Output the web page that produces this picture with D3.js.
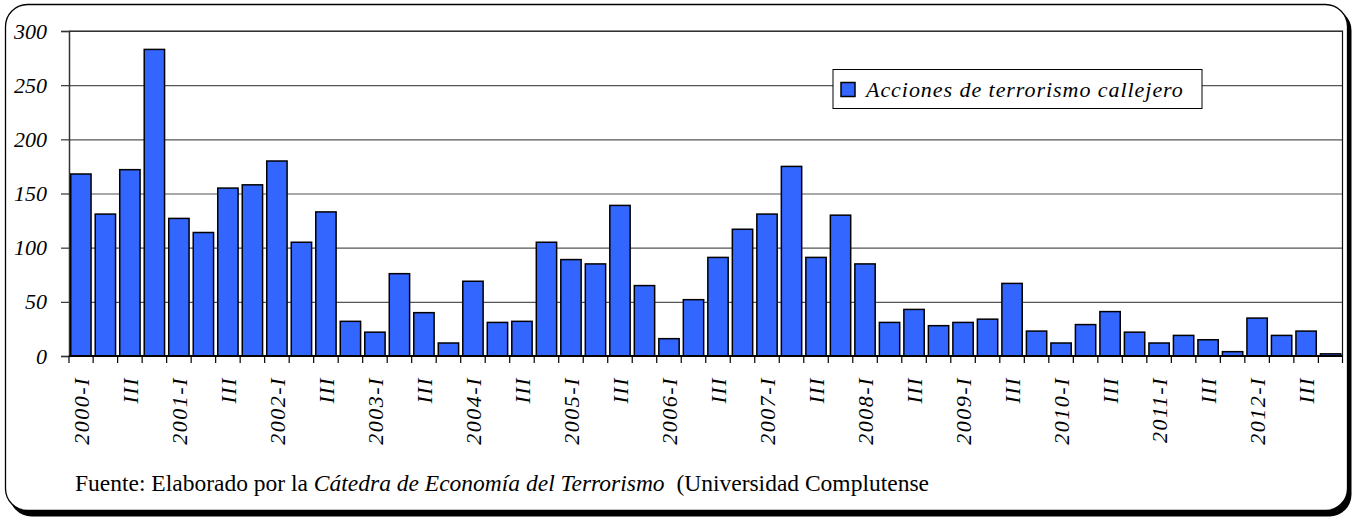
<!DOCTYPE html>
<html>
<head>
<meta charset="utf-8">
<script src="https://cdn.jsdelivr.net/npm/d3@7"></script>
<style>
  body { margin: 0; background: #fff; }
  text { font-family: "Liberation Serif", "Times New Roman", serif; }
</style>
</head>
<body>
<div id="chart"></div>
<script>

// categories: quarters 2000-I .. 2012-IV
var years = ["2000", "2001", "2002", "2003", "2004", "2005", "2006",
             "2007", "2008", "2009", "2010", "2011", "2012"];
var quarters = ["I", "II", "III", "IV"];

// acciones de terrorismo callejero, one value per quarter
var values = [168, 131, 172, 283,
              127, 114, 155, 158,
              180, 105, 133, 32,
              22, 76, 40, 12,
              69, 31, 32, 105,
              89, 85, 139, 65,
              16, 52, 91, 117,
              131, 175, 91, 130,
              85, 31, 43, 28,
              31, 34, 67, 23,
              12, 29, 41, 22,
              12, 19, 15, 4,
              35, 19, 23, 2];

var yTicks = [0, 50, 100, 150, 200, 250, 300];
var seriesName = "Acciones de terrorismo callejero";

var categories = [];
years.forEach(function (y) {
    quarters.forEach(function (q) { categories.push(y + "-" + q); });
});

function tickLabel(c, i) {
    if (i % 2 != 0) return "";
    var q = c.split("-")[1];
    return q == "I" ? c : q;
}

var W = 1359, H = 520;
var margin = {top: 31, right: 17, bottom: 164, left: 69},
    width = 1342.5 - margin.left,
    height = 356 - margin.top;

var svg = d3.select("#chart")
    .append("svg")
    .attr("width", W)
    .attr("height", H);

// outer frame with shadow
svg.append("rect")
    .attr("x", 9.5).attr("y", 8.5)
    .attr("width", 1342).attr("height", 508)
    .attr("rx", 22)
    .style("fill", "#000");
svg.append("rect")
    .attr("x", 5.5).attr("y", 4.5)
    .attr("width", 1342).attr("height", 506)
    .attr("rx", 22)
    .style("fill", "#fff")
    .style("stroke", "#000")
    .style("stroke-width", 1.3);

var g = svg.append("g")
    .attr("transform", "translate(" + margin.left + "," + margin.top + ")");

var x = d3.scaleBand()
    .domain(categories)
    .range([0, width])
    .paddingInner(0.17)
    .paddingOuter(0.07);

var y = d3.scaleLinear()
    .domain([0, 300])
    .range([height, 0]);

// gridlines
g.append("g")
    .attr("class", "grid")
    .call(d3.axisLeft(y).tickValues(yTicks).tickSize(-width).tickFormat(""))
    .call(function (s) {
        s.select(".domain").remove();
        s.selectAll("line").style("stroke", "#555").style("stroke-width", 1.2);
    });

// plot border top + right
g.append("path")
    .attr("d", "M0,0H" + width + "V" + height)
    .style("fill", "none")
    .style("stroke", "#111")
    .style("stroke-width", 1.2);

// y axis
g.append("g")
    .call(d3.axisLeft(y).tickValues(yTicks).tickSize(8).tickPadding(14))
    .call(function (s) {
        s.select(".domain").style("stroke", "#333").style("stroke-width", 1.5);
        s.selectAll("line").style("stroke", "#333").style("stroke-width", 1.2);
        s.selectAll("text")
            .style("font-family", "Liberation Serif")
            .style("font-style", "italic")
            .style("font-size", "22px")
            .style("fill", "#000");
    });

// bars
g.append("g")
    .selectAll("rect")
    .data(values)
    .enter()
    .append("rect")
    .attr("x", function (d, i) { return x(categories[i]); })
    .attr("y", function (d) { return y(d); })
    .attr("width", x.bandwidth())
    .attr("height", function (d) { return height - y(d); })
    .style("fill", "#3366ff")
    .style("stroke", "#000")
    .style("stroke-width", 1.5);

// x axis: ticks at category boundaries
var step = x.step();
var x0 = x(categories[0]) - x.paddingInner() * step / 2;
var bounds = d3.range(categories.length + 1).map(function (i) {
    return Math.min(width, Math.max(0, x0 + i * step));
});
var xa = g.append("g").attr("transform", "translate(0," + height + ")");
xa.append("line")
    .attr("x1", 0).attr("x2", width)
    .style("stroke", "#000").style("stroke-width", 2);
xa.selectAll(".tk")
    .data(bounds)
    .enter()
    .append("line")
    .attr("class", "tk")
    .attr("x1", function (d) { return d; })
    .attr("x2", function (d) { return d; })
    .attr("y1", 0).attr("y2", 7)
    .style("stroke", "#000").style("stroke-width", 1.2);

xa.selectAll(".lbl")
    .data(categories)
    .enter()
    .append("text")
    .attr("class", "lbl")
    .attr("transform", function (c) {
        return "translate(" + (x(c) + x.bandwidth() / 2) + ",21) rotate(-90)";
    })
    .attr("dy", "0.35em")
    .style("text-anchor", "end")
    .style("font-style", "italic")
    .style("font-size", "22px")
    .style("letter-spacing", "1.5px")
    .text(tickLabel);

// legend
var leg = g.append("g").attr("transform", "translate(" + (833 - margin.left) + "," + (69.5 - margin.top) + ")");
leg.append("rect")
    .attr("width", 369).attr("height", 39)
    .style("fill", "#fff")
    .style("stroke", "#000")
    .style("stroke-width", 1);
leg.append("rect")
    .attr("x", 8).attr("y", 13)
    .attr("width", 14).attr("height", 14)
    .style("fill", "#3366ff")
    .style("stroke", "#000")
    .style("stroke-width", 1.5);
leg.append("text")
    .attr("x", 33).attr("y", 27)
    .style("font-style", "italic")
    .style("font-size", "22px")
    .style("letter-spacing", "0.95px")
    .text(seriesName);

// source note
var note = svg.append("text")
    .attr("x", 75).attr("y", 491)
    .style("font-size", "23.5px");
note.append("tspan").text("Fuente: Elaborado por la ");
note.append("tspan").style("font-style", "italic").text("Cátedra de Economía del Terrorismo");
note.append("tspan").attr("xml:space", "preserve").text("  (Universidad Complutense");

</script>
</body>
</html>
